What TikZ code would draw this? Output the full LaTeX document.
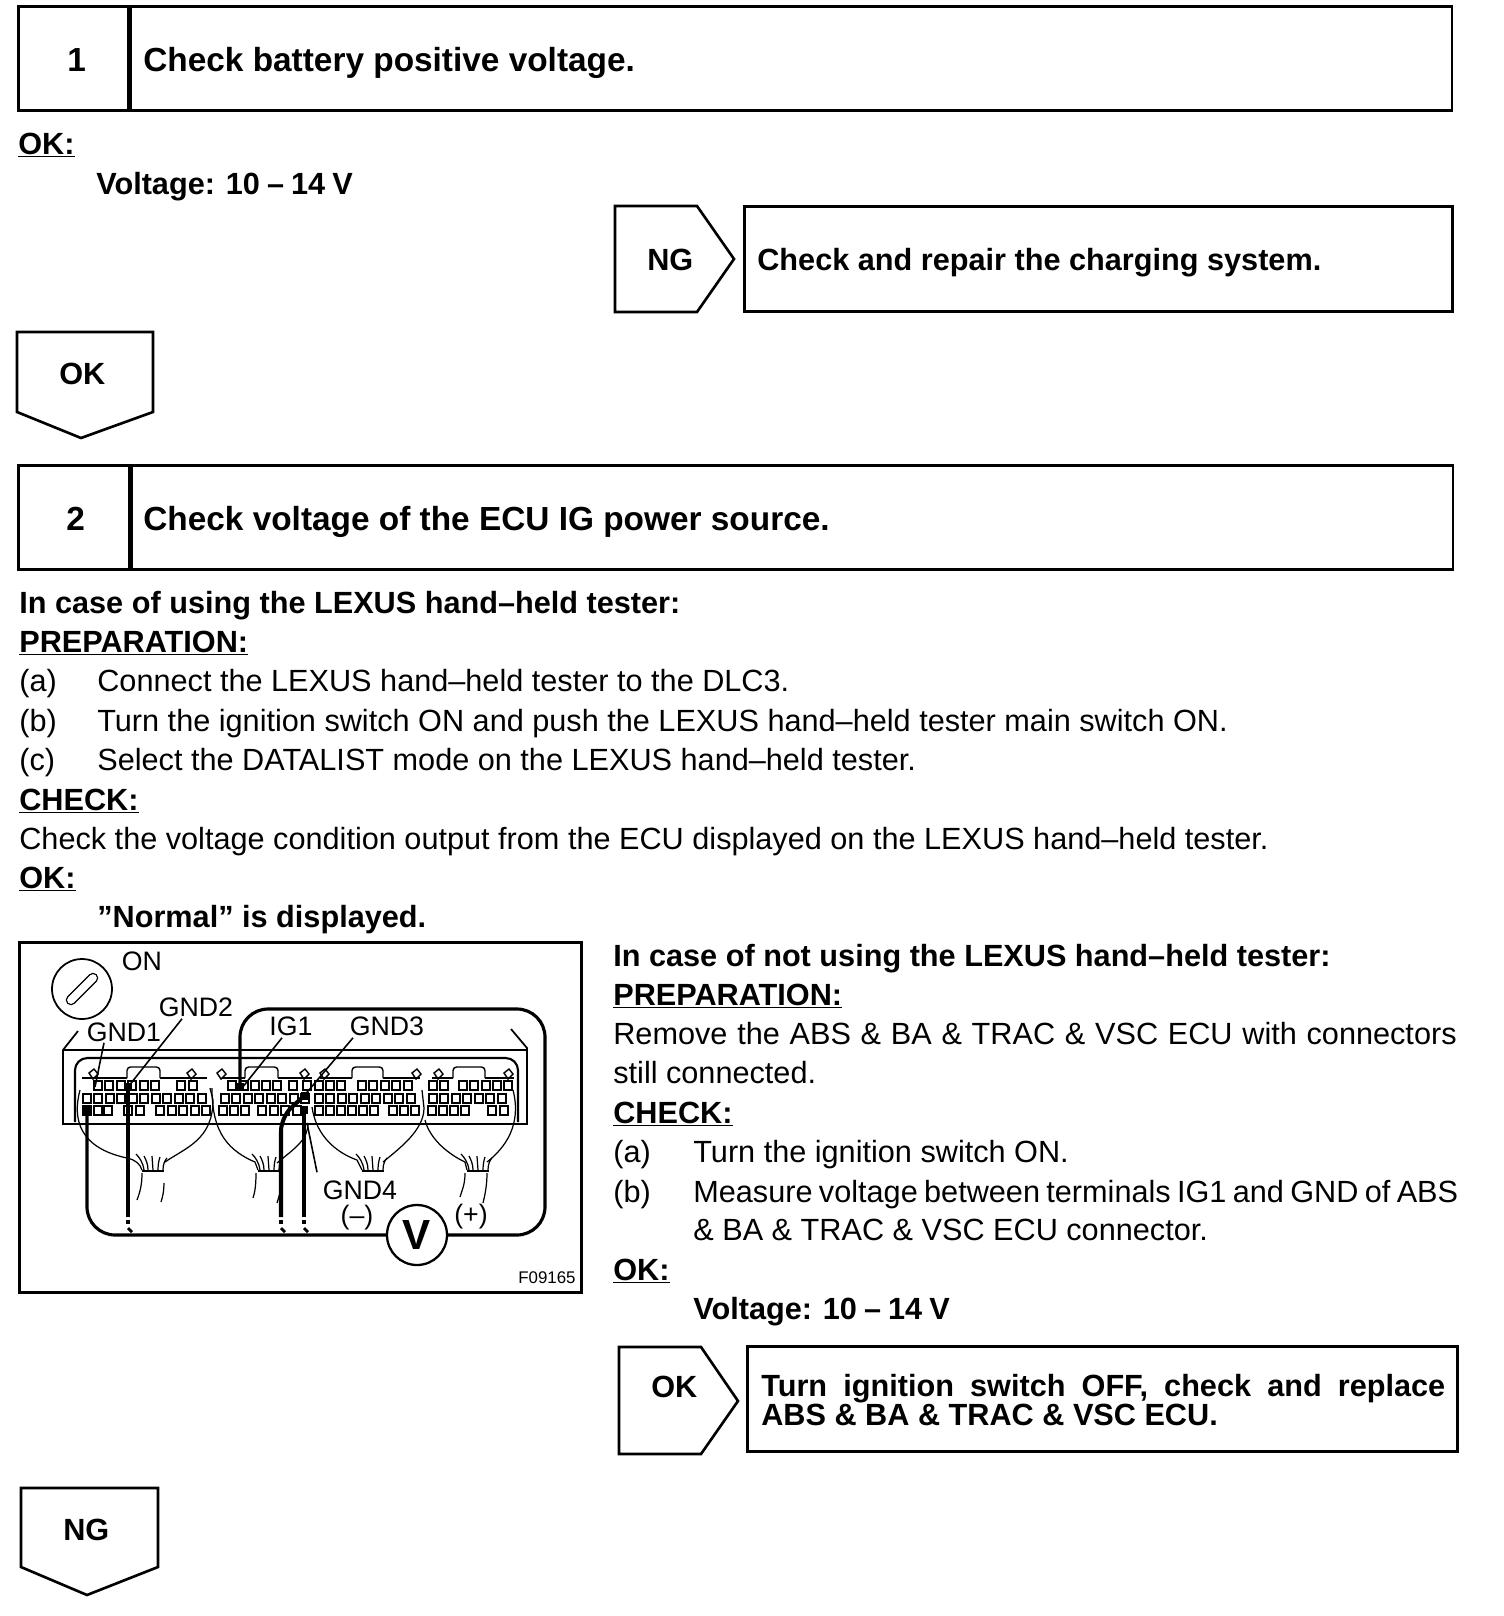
\documentclass[tikz,border=0pt]{standalone}
\usepackage{fontspec}
\setmainfont{Liberation Sans}
\usetikzlibrary{positioning,calc}
\newcommand{\fitline}[2]{\hbox to #1{\spaceskip=.2em plus 1em minus .2em\relax #2}}

\begin{document}
\begin{tikzpicture}[
  x=0.02cm,y=-0.02cm,
  outl/.style={draw,line width=1.5pt},
  wire/.style={line width=1.8pt,rounded corners=16},
  thin line/.style={line width=0.7pt},
  pinbox/.style={draw,line width=1pt},
  head/.style={anchor=base west,inner sep=0pt,yshift=-0.02cm,font=\fontsize{19pt}{22pt}\selectfont\bfseries},
  body/.style={anchor=base west,inner sep=0pt,yshift=-0.02cm,font=\fontsize{17.45pt}{20pt}\selectfont},
  bodyb/.style={body,font=\fontsize{17.45pt}{20pt}\selectfont\bfseries},
  lbl/.style={inner sep=0pt,font=\fontsize{15.2pt}{17pt}\selectfont}
]
  \useasboundingbox (0,0) rectangle (1504,1616);

  % step 1
  \node[outl,anchor=north west,inner sep=0pt,minimum width=2.2cm,minimum height=2.08cm] (numa) at (17,5) {};
  \node[outl,anchor=north west,inner sep=0pt,minimum width=26.44cm,minimum height=2.08cm] (stepa) at (129,5) {};
  \node[head] (numatxt) at (67,70) {1};
  \node[head] (stepatxt) at (143,70) {Check battery positive voltage.};
  \node[bodyb] (oka) at (18,153) {\underline{OK:}};
  \node[bodyb] (volta) at (96,193) {\fitline{5.13cm}{Voltage: 10 -- 14 V}};

  % ng branch of step 1
  \draw[outl] (615,206) -- (697,206) -- (734,259) -- (697,312) -- (615,312) -- cycle;
  \node[bodyb] (ngatxt) at (647,269) {NG};
  \node[outl,anchor=north west,inner sep=0pt,minimum width=14.16cm,minimum height=2.1cm] (repair) at (743,205) {};
  \node[bodyb] (repairtxt) at (757,269) {Check and repair the charging system.};

  % ok to step 2
  \draw[outl] (17,332) -- (153,332) -- (153,412) -- (81,438) -- (17,412) -- cycle;
  \node[bodyb] (okbtxt) at (59,383) {OK};

  % step 2
  \node[outl,anchor=north west,inner sep=0pt,minimum width=2.22cm,minimum height=2.08cm] (numb) at (17,464) {};
  \node[outl,anchor=north west,inner sep=0pt,minimum width=26.44cm,minimum height=2.08cm] (stepb) at (130,464) {};
  \node[head] (numbtxt) at (66,529) {2};
  \node[head] (stepbtxt) at (143,529) {Check voltage of the ECU IG power source.};

  \node[bodyb] (testa) at (19,612) {In case of using the LEXUS hand--held tester:};
  \node[bodyb] (prepa) at (19,651) {\underline{PREPARATION:}};
  \node[body] (ita) at (19,690) {(a)};
  \node[body] (itatxt) at (97,690) {Connect the LEXUS hand--held tester to the DLC3.};
  \node[body] (itb) at (19,730) {(b)};
  \node[body] (itbtxt) at (97,730) {Turn the ignition switch ON and push the LEXUS hand--held tester main switch ON.};
  \node[body] (itc) at (19,769) {(c)};
  \node[body] (itctxt) at (97,769) {Select the DATALIST mode on the LEXUS hand--held tester.};
  \node[bodyb] (chka) at (19,809) {\underline{CHECK:}};
  \node[body] (chkatxt) at (19,848) {Check the voltage condition output from the ECU displayed on the LEXUS hand--held tester.};
  \node[bodyb] (okc) at (19,887) {\underline{OK:}};
  \node[bodyb] (norm) at (97,926) {''Normal'' is displayed.};

  % right column
  \node[bodyb] (testb) at (613,965) {In case of not using the LEXUS hand--held tester:};
  \node[bodyb] (prepb) at (613,1004) {\underline{PREPARATION:}};
  \node[body] (rema) at (613,1043) {\fitline{16.87cm}{Remove the ABS \& BA \& TRAC \& VSC ECU with connectors}};
  \node[body] (remb) at (613,1082) {still connected.};
  \node[bodyb] (chkb) at (613,1122) {\underline{CHECK:}};
  \node[body] (ja) at (613,1161) {(a)};
  \node[body] (jatxt) at (693,1161) {Turn the ignition switch ON.};
  \node[body] (jb) at (613,1201) {(b)};
  \node[body] (jbtxt) at (693,1201) {\fitline{15.3cm}{Measure voltage between terminals IG1 and GND of ABS}};
  \node[body] (jbtxtb) at (693,1239) {\& BA \& TRAC \& VSC ECU connector.};
  \node[bodyb] (okd) at (613,1279) {\underline{OK:}};
  \node[bodyb] (voltb) at (693,1318) {\fitline{5.13cm}{Voltage: 10 -- 14 V}};

  % ok branch of step 2
  \draw[outl] (619,1347) -- (701,1347) -- (738,1401) -- (701,1454) -- (619,1454) -- cycle;
  \node[bodyb] (oketxt) at (651,1396) {OK};
  \node[outl,anchor=north west,inner sep=0pt,minimum width=14.2cm,minimum height=2.1cm] (replace) at (746,1345) {};
  \node[bodyb,text width=13.68cm,align=justify,anchor=north west,
        font=\fontsize{17.45pt}{16.4pt}\selectfont\bfseries] (replacetxt) at (761,1373)
       {Turn ignition switch OFF, check and replace ABS \& BA \& TRAC \& VSC ECU.};

  % ng to next step
  \draw[outl] (21,1488) -- (158,1488) -- (158,1567) -- (87,1595) -- (21,1567) -- cycle;
  \node[bodyb] (ngbtxt) at (63,1539) {NG};

  % figure frame
  \node[outl,anchor=north west,inner sep=0pt,minimum width=11.24cm,minimum height=7cm] (fig) at (18,941) {};

  % ignition key
  \node[circle,draw,line width=1pt,minimum size=1.2cm,inner sep=0pt] (key) at (82,989) {};
  \draw[line width=6pt,line cap=round] (71,1000) -- (93,978);
  \draw[line width=4.4pt,line cap=round,white] (71,1000) -- (93,978);

  % ecu case
  \draw[line width=1pt] (78,1031) -- (63,1050) -- (63,1124) -- (527,1124) -- (527,1048) -- (511,1029);
  \draw[line width=1pt] (63,1050) -- (527,1050);
  \draw[line width=1.2pt,rounded corners=7] (75,1122) -- (75,1058) -- (518,1058) -- (518,1122);

  % connector tops and hoods
  \foreach \hx/\hw in {127/33,245/33,352/31,453/32}
    \draw[line width=0.8pt,rounded corners=2] (\hx,1078) -- (\hx,1067) -- (\hx+\hw,1067) -- (\hx+\hw,1078);
  \foreach \tx/\te in {82/127,160/207,222/245,278/312,320/352,383/420,432/453,485/514}
    \draw[line width=0.8pt] (\tx,1078) -- (\te,1078);
  \foreach \tx in {92,190,220,303,323,415,437,507}
    \draw[line width=0.8pt] (\tx-3,1073) -- (\tx+2,1069) -- (\tx+6,1074) -- (\tx+1,1079) -- cycle;

  % pins
  \foreach \px in {98,109,121,132,144,155,181,193,232,244,255,266,277,293,307,319,330,341,362,373,385,396,408,433,444,463,474,486,497,508}
    \draw[pinbox] (\px-4,1081) rectangle ++(8,9);
  \foreach \px in {87,98,110,121,133,144,156,167,179,190,202,225,236,248,259,271,282,294,305,319,330,342,353,365,376,388,399,411,433,444,456,467,479,490,502}
    \draw[pinbox] (\px-4,1094) rectangle ++(8,9);
  \foreach \px in {87,98,108,128,140,160,172,183,195,206,223,234,245,262,274,285,297,319,330,341,352,363,374,393,404,415,432,443,454,465,492,504}
    \draw[pinbox] (\px-4,1106) rectangle ++(8,9);

  % wire bundles
  \draw[thin line] (80,1090) .. controls (72,1120) and (80,1148) .. (127,1158) .. controls (136,1160) and (140,1164) .. (142,1170);
  \draw[thin line] (165,1162) .. controls (185,1148) and (213,1140) .. (213,1100) -- (210,1088);
  \draw[thin line] (142,1173) .. controls (142,1185) and (140,1192) .. (137,1200);
  \draw[thin line] (164,1183) .. controls (164,1190) and (163,1196) .. (161,1202);
  \draw[thin line] (212,1088) .. controls (212,1125) and (222,1148) .. (255,1162) -- (258,1170);
  \draw[thin line] (277,1163) .. controls (295,1148) and (308,1140) .. (308,1123);
  \draw[thin line] (256,1173) .. controls (256,1185) and (255,1192) .. (253,1198);
  \draw[thin line] (280,1193) -- (277,1203);
  \draw[thin line] (312,1107) .. controls (316,1135) and (335,1152) .. (357,1160) -- (362,1170);
  \draw[thin line] (383,1162) .. controls (400,1148) and (424,1130) .. (424,1108) -- (422,1090);
  \draw[thin line] (425,1120) .. controls (430,1140) and (450,1155) .. (465,1162) -- (467,1170);
  \draw[thin line] (487,1162) .. controls (505,1148) and (522,1125) .. (513,1090);
  \draw[thin line] (465,1173) .. controls (465,1185) and (462,1190) .. (460,1197);
  \draw[thin line] (487,1173) .. controls (487,1185) and (485,1195) .. (483,1203);
  \foreach \fx in {142,258,362,467} {
    \draw[thin line] (\fx,1171) -- (\fx+22,1171);
    \draw[thin line] (\fx+2,1170) .. controls (\fx+1,1162) and (\fx-3,1157) .. (\fx-6,1154);
    \draw[thin line] (\fx+6,1170) .. controls (\fx+6,1164) and (\fx+4,1160) .. (\fx+2,1156);
    \draw[thin line] (\fx+11,1170) -- (\fx+10,1156);
    \draw[thin line] (\fx+16,1170) .. controls (\fx+16,1164) and (\fx+17,1160) .. (\fx+18,1157);
    \draw[thin line] (\fx+21,1170) .. controls (\fx+21,1164) and (\fx+23,1160) .. (\fx+25,1158);
  }

  % meter
  \node[circle,draw,line width=1.3pt,minimum size=1.2cm,inner sep=0pt,
        font=\fontsize{24pt}{26pt}\selectfont\bfseries] (meter) at (417,1235) {V};

  % measuring loop
  \draw[wire] (240,1087) -- (240,1009) -- (545,1009) -- (545,1235) -- (meter.east);
  \draw[wire] (meter.west) -- (87,1235) -- (87,1107);
  \draw[line width=2.3pt] (128,1087) -- (128,1217);
  \draw[line width=2.3pt,rounded corners=8] (305,1095) -- (281,1117) -- (281,1217);
  \draw[line width=2.3pt] (304,1108) -- (304,1217);
  \foreach \wx in {128,281,304} {
    \fill (\wx-2,1220) rectangle ++(4,4);
    \draw[line width=1.6pt] (\wx,1228) -- (\wx+4,1232);
  }
  \foreach \sx/\sy in {87/1110,128/1087,240/1087,304/1110,305/1096}
    \fill (\sx-4,\sy-4) rectangle ++(8,8);

  % labels and leaders
  \node[lbl] (on) at (142,961) {ON};
  \node[lbl] (gnda) at (124,1032) {GND1};
  \node[lbl] (gndb) at (196,1007) {GND2};
  \node[lbl] (iga) at (291,1026) {IG1};
  \node[lbl] (gndc) at (387,1026) {GND3};
  \node[lbl] (gndd) at (360,1190) {GND4};
  \node[lbl] (minus) at (357,1218) {(--)};
  \node[lbl] (plus) at (471,1217) {(+)};
  \node[inner sep=0pt,font=\fontsize{9.6pt}{11pt}\selectfont] (figid) at (547,1278) {F09165};
  \draw[line width=0.9pt] ($(gnda.south)+(-20,1)$) -- (95,1087);
  \draw[line width=0.9pt] ($(gndb.south)+(-14,2)$) -- (128,1087);
  \draw[line width=0.9pt] ($(iga.south)+(-9,2)$) -- (242,1088);
  \draw[line width=0.9pt] ($(gndc.south)+(-34,2)$) -- (303,1097);
  \draw[line width=0.9pt] (307,1123) -- ($(gndd.north)+(-43,-8)$);
\end{tikzpicture}
\end{document}
